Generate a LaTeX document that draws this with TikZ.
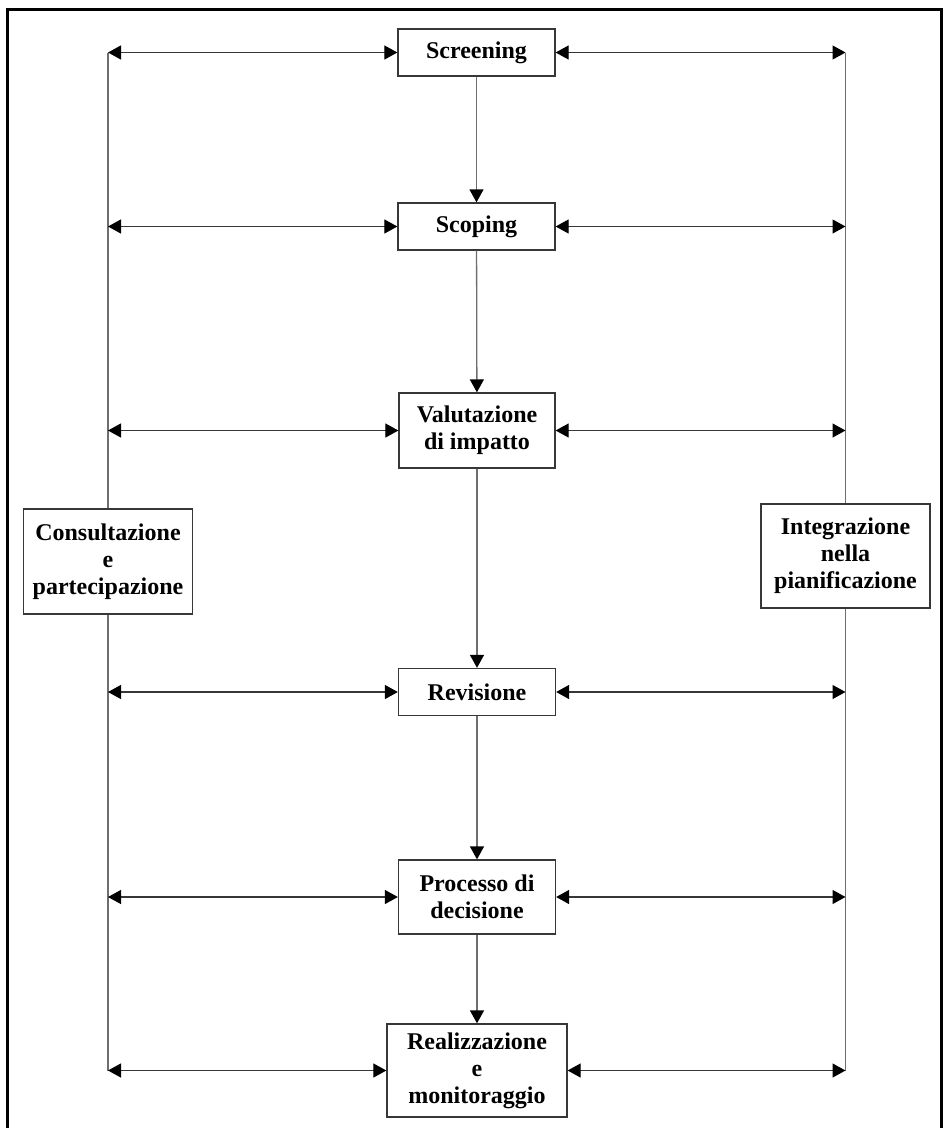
\documentclass[tikz,border=0pt]{standalone}
\usepackage{fontspec}
\setmainfont{Liberation Serif}
\usetikzlibrary{arrows.meta,positioning}
\definecolor{vgray}{RGB}{110,110,110}
\definecolor{hgray}{RGB}{55,55,55}

\begin{document}
\begin{tikzpicture}[x=1pt, y=-1pt,
  fase/.style={draw=hgray, line width=1.3pt, fill=white, align=center, inner sep=0pt,
    font=\fontsize{24}{27}\selectfont\bfseries},
  flow/.style={vgray, line width=1.3pt, -{Triangle[length=13pt,width=14pt,color=black]}},
  biarrow/.style={hgray, line width=1.2pt, {Triangle[length=13pt,width=14pt,color=black]}-{Triangle[length=13pt,width=14pt,color=black]}},
  lato/.style={vgray, line width=1.3pt}]
\useasboundingbox (0,0) rectangle (944,1128);
% cornice
\draw[black, line width=3pt] (7,1140) -- (7,9) -- (941,9) -- (941,1140);
% fasi centrali
\node[fase, minimum width=157pt, minimum height=47pt] (scr) at (476.5,52.5) {Screening};
\node[fase, minimum width=157pt, minimum height=47pt] (scp) at (476.5,226.5) {Scoping};
\node[fase, minimum width=156pt, minimum height=75pt] (val) at (477,430.5) {Valutazione\\di impatto};
\node[fase, minimum width=157pt, minimum height=47pt] (rev) at (477,692) {Revisione};
\node[fase, minimum width=157pt, minimum height=74pt] (pro) at (477,897) {Processo di\\decisione};
\node[fase, minimum width=180pt, minimum height=93pt] (rea) at (477,1070.5) {Realizzazione\\e\\monitoraggio};
% lati
\node[fase, minimum width=169pt, minimum height=105pt] (con) at (108,561.5) {Consultazione\\e\\partecipazione};
\node[fase, minimum width=169pt, minimum height=104pt] (int) at (845.5,556) {Integrazione\\nella\\pianificazione};
% linee verticali
\draw[lato] (scr.west -| con) -- (con.north);
\draw[lato] (con.south) -- (rea.west -| con);
\draw[lato] (scr.east -| int) -- (int.north);
\draw[lato] (int.south) -- (rea.east -| int);
% sequenza
\draw[flow] (scr) -- (scp);
\draw[flow] (scp) -- (val);
\draw[flow] (val) -- (rev);
\draw[flow] (rev) -- (pro);
\draw[flow] (pro) -- (rea);
% frecce orizzontali
\foreach \n in {scr,scp,val,rev,pro,rea} {
  \draw[biarrow] (\n.west -| con) -- (\n.west);
  \draw[biarrow] (\n.east) -- (\n.east -| int);
}
\end{tikzpicture}
\end{document}
